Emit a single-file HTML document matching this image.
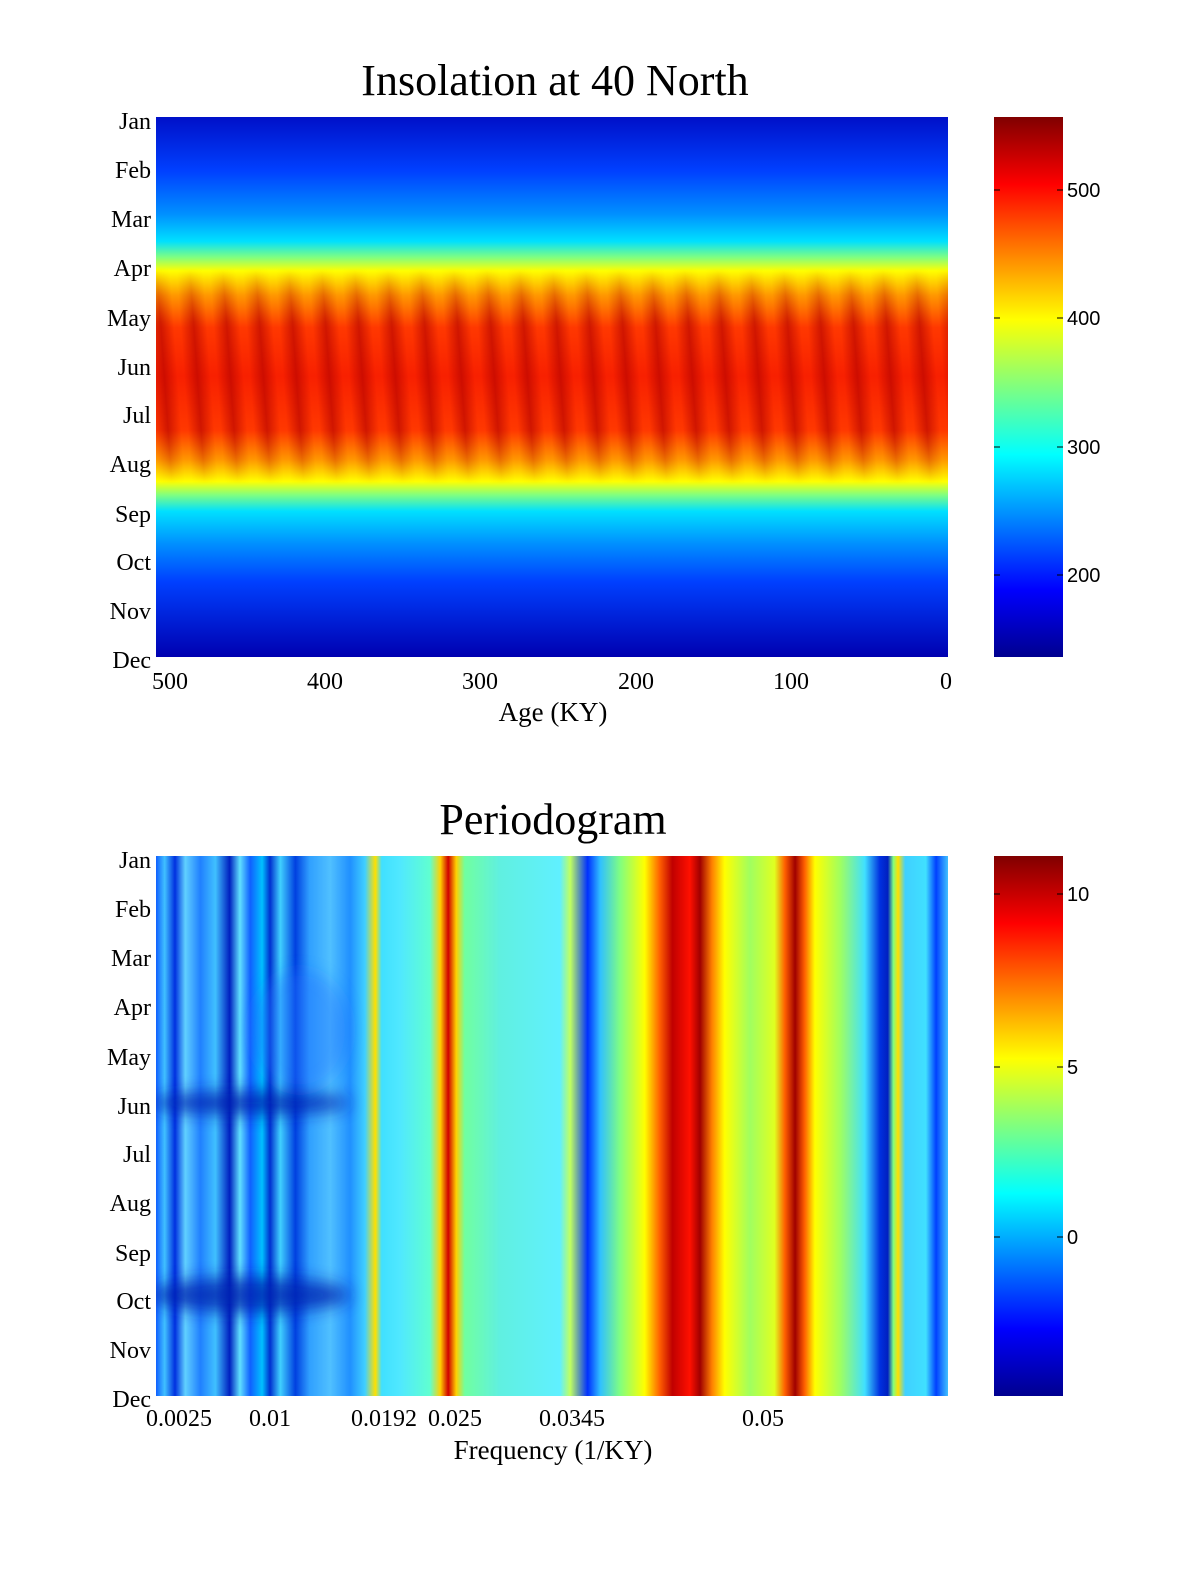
<!DOCTYPE html>
<html><head><style>
html,body{margin:0;padding:0;background:#fff;overflow:hidden;width:1200px;height:1575px;}
svg{display:block;}
svg text{font-family:"Liberation Serif",serif;}
svg .cb text{font-family:"Liberation Sans",sans-serif;font-size:20px;}
</style></head><body>
<svg width="1200" height="1575" viewBox="0 0 1200 1575" xmlns="http://www.w3.org/2000/svg">
<defs>
<linearGradient id="topbase" x1="0" y1="0" x2="0" y2="1">
<stop offset="0" stop-color="#0010c8"/>
<stop offset="0.1" stop-color="#0040ff"/>
<stop offset="0.18" stop-color="#0090ff"/>
<stop offset="0.23" stop-color="#00e0ff"/>
<stop offset="0.26" stop-color="#80ff80"/>
<stop offset="0.285" stop-color="#ffff00"/>
<stop offset="0.33" stop-color="#ff9800"/>
<stop offset="0.39" stop-color="#ff3800"/>
<stop offset="0.48" stop-color="#f82000"/>
<stop offset="0.58" stop-color="#ff3800"/>
<stop offset="0.635" stop-color="#ff9800"/>
<stop offset="0.675" stop-color="#ffff00"/>
<stop offset="0.70" stop-color="#80ff80"/>
<stop offset="0.73" stop-color="#00e0ff"/>
<stop offset="0.79" stop-color="#0090ff"/>
<stop offset="0.86" stop-color="#0040ff"/>
<stop offset="1" stop-color="#0000b0"/>
</linearGradient>
<linearGradient id="stripe" x1="0" y1="0" x2="1" y2="0">
<stop offset="0" stop-color="#b00000" stop-opacity="0"/>
<stop offset="0.5" stop-color="#b00000" stop-opacity="0.6"/>
<stop offset="1" stop-color="#b00000" stop-opacity="0"/>
</linearGradient>
<pattern id="pat" x="156" y="0" width="33" height="1575" patternUnits="userSpaceOnUse" patternTransform="skewX(4)">
<rect x="2" y="0" width="26" height="1575" fill="url(#stripe)"/>
</pattern>
<linearGradient id="bandmask" x1="0" y1="0" x2="0" y2="1">
<stop offset="0" stop-color="#000"/>
<stop offset="0.28" stop-color="#000"/>
<stop offset="0.38" stop-color="#fff"/>
<stop offset="0.58" stop-color="#fff"/>
<stop offset="0.68" stop-color="#000"/>
<stop offset="1" stop-color="#000"/>
</linearGradient>
<mask id="m1"><rect x="156" y="117" width="792" height="540" fill="url(#bandmask)"/></mask>
<linearGradient id="jet" x1="0" y1="0" x2="0" y2="1">
<stop offset="0" stop-color="#800000"/>
<stop offset="0.125" stop-color="#ff0000"/>
<stop offset="0.375" stop-color="#ffff00"/>
<stop offset="0.625" stop-color="#00ffff"/>
<stop offset="0.875" stop-color="#0000ff"/>
<stop offset="1" stop-color="#00008f"/>
</linearGradient>
<linearGradient id="bot" x1="0" y1="0" x2="1" y2="0">
<stop offset="0.000" stop-color="#1060ff"/>
<stop offset="0.011" stop-color="#40c0ff"/>
<stop offset="0.024" stop-color="#0030e0"/>
<stop offset="0.037" stop-color="#60d0ff"/>
<stop offset="0.056" stop-color="#2080ff"/>
<stop offset="0.075" stop-color="#40c0ff"/>
<stop offset="0.093" stop-color="#0020c0"/>
<stop offset="0.106" stop-color="#60e0ff"/>
<stop offset="0.119" stop-color="#1060ff"/>
<stop offset="0.134" stop-color="#00c0ff"/>
<stop offset="0.144" stop-color="#0030d0"/>
<stop offset="0.157" stop-color="#40d0ff"/>
<stop offset="0.176" stop-color="#0040e0"/>
<stop offset="0.194" stop-color="#30a0ff"/>
<stop offset="0.220" stop-color="#50c0ff"/>
<stop offset="0.245" stop-color="#2090ff"/>
<stop offset="0.264" stop-color="#40d0ff"/>
<stop offset="0.277" stop-color="#ffe000"/>
<stop offset="0.285" stop-color="#40e0ff"/>
<stop offset="0.308" stop-color="#50e8ff"/>
<stop offset="0.346" stop-color="#60ffd0"/>
<stop offset="0.359" stop-color="#ffd000"/>
<stop offset="0.369" stop-color="#d00000"/>
<stop offset="0.379" stop-color="#ffd000"/>
<stop offset="0.390" stop-color="#70ffa0"/>
<stop offset="0.434" stop-color="#60f0e0"/>
<stop offset="0.510" stop-color="#60f0ff"/>
<stop offset="0.523" stop-color="#c0ff60"/>
<stop offset="0.545" stop-color="#0030ff"/>
<stop offset="0.561" stop-color="#30c0ff"/>
<stop offset="0.586" stop-color="#80ff80"/>
<stop offset="0.617" stop-color="#ffff00"/>
<stop offset="0.636" stop-color="#ff6000"/>
<stop offset="0.652" stop-color="#c00000"/>
<stop offset="0.674" stop-color="#ff1000"/>
<stop offset="0.687" stop-color="#a00000"/>
<stop offset="0.702" stop-color="#ff8000"/>
<stop offset="0.718" stop-color="#ffff00"/>
<stop offset="0.750" stop-color="#a0ff60"/>
<stop offset="0.781" stop-color="#e0ff20"/>
<stop offset="0.794" stop-color="#ff6000"/>
<stop offset="0.807" stop-color="#a00000"/>
<stop offset="0.819" stop-color="#ff6000"/>
<stop offset="0.832" stop-color="#ffff00"/>
<stop offset="0.864" stop-color="#a0ff60"/>
<stop offset="0.895" stop-color="#40e0ff"/>
<stop offset="0.914" stop-color="#0030e0"/>
<stop offset="0.924" stop-color="#0020c0"/>
<stop offset="0.931" stop-color="#80ff80"/>
<stop offset="0.937" stop-color="#ffe000"/>
<stop offset="0.946" stop-color="#40d0ff"/>
<stop offset="0.972" stop-color="#40e0ff"/>
<stop offset="0.985" stop-color="#0040ff"/>
<stop offset="1" stop-color="#40c0ff"/>
</linearGradient>
<filter id="blur" x="-20%" y="-50%" width="140%" height="200%"><feGaussianBlur stdDeviation="8"/></filter>
<clipPath id="c2"><rect x="156" y="856" width="792" height="540"/></clipPath>
</defs>

<text x="555" y="95" font-size="44" text-anchor="middle">Insolation at 40 North</text>
<rect x="156" y="117" width="792" height="540" fill="url(#topbase)"/>
<rect x="156" y="117" width="792" height="540" fill="url(#pat)" mask="url(#m1)"/>
<g font-size="24" text-anchor="end">
<text x="151" y="129">Jan</text><text x="151" y="178">Feb</text><text x="151" y="227">Mar</text>
<text x="151" y="276">Apr</text><text x="151" y="326">May</text><text x="151" y="375">Jun</text>
<text x="151" y="423">Jul</text><text x="151" y="472">Aug</text><text x="151" y="522">Sep</text>
<text x="151" y="570">Oct</text><text x="151" y="619">Nov</text><text x="151" y="668">Dec</text>
</g>
<g font-size="24" text-anchor="middle">
<text x="170" y="689">500</text><text x="325" y="689">400</text><text x="480" y="689">300</text>
<text x="636" y="689">200</text><text x="791" y="689">100</text><text x="946" y="689">0</text>
</g>
<text x="553" y="721" font-size="27" text-anchor="middle">Age (KY)</text>
<rect x="994" y="117" width="69" height="540" fill="url(#jet)"/>
<g stroke="#000" stroke-width="1">
<line x1="994" y1="190" x2="1000" y2="190"/><line x1="1057" y1="190" x2="1063" y2="190"/>
<line x1="994" y1="318" x2="1000" y2="318"/><line x1="1057" y1="318" x2="1063" y2="318"/>
<line x1="994" y1="447" x2="1000" y2="447"/><line x1="1057" y1="447" x2="1063" y2="447"/>
<line x1="994" y1="575" x2="1000" y2="575"/><line x1="1057" y1="575" x2="1063" y2="575"/>
</g>
<g class="cb"><text x="1067" y="197">500</text><text x="1067" y="325">400</text><text x="1067" y="454">300</text><text x="1067" y="582">200</text></g>

<text x="553" y="834" font-size="44" text-anchor="middle">Periodogram</text>
<rect x="156" y="856" width="792" height="540" fill="url(#bot)"/>
<g clip-path="url(#c2)" filter="url(#blur)" fill="#0020b0" opacity="0.8">
<ellipse cx="250" cy="1103" rx="100" ry="12"/>
<ellipse cx="250" cy="1295" rx="100" ry="18"/>
<ellipse cx="300" cy="1030" rx="50" ry="60" fill="#2070ff" opacity="0.5"/>
</g>
<g font-size="24" text-anchor="end">
<text x="151" y="868">Jan</text><text x="151" y="917">Feb</text><text x="151" y="966">Mar</text>
<text x="151" y="1015">Apr</text><text x="151" y="1065">May</text><text x="151" y="1114">Jun</text>
<text x="151" y="1162">Jul</text><text x="151" y="1211">Aug</text><text x="151" y="1261">Sep</text>
<text x="151" y="1309">Oct</text><text x="151" y="1358">Nov</text><text x="151" y="1407">Dec</text>
</g>
<g font-size="24" text-anchor="middle">
<text x="179" y="1426">0.0025</text><text x="270" y="1426">0.01</text><text x="384" y="1426">0.0192</text>
<text x="455" y="1426">0.025</text><text x="572" y="1426">0.0345</text><text x="763" y="1426">0.05</text>
</g>
<text x="553" y="1459" font-size="27" text-anchor="middle">Frequency (1/KY)</text>
<rect x="994" y="856" width="69" height="540" fill="url(#jet)"/>
<g stroke="#000" stroke-width="1">
<line x1="994" y1="894" x2="1000" y2="894"/><line x1="1057" y1="894" x2="1063" y2="894"/>
<line x1="994" y1="1067" x2="1000" y2="1067"/><line x1="1057" y1="1067" x2="1063" y2="1067"/>
<line x1="994" y1="1237" x2="1000" y2="1237"/><line x1="1057" y1="1237" x2="1063" y2="1237"/>
</g>
<g class="cb"><text x="1067" y="901">10</text><text x="1067" y="1074">5</text><text x="1067" y="1244">0</text></g>
</svg>
</body></html>
